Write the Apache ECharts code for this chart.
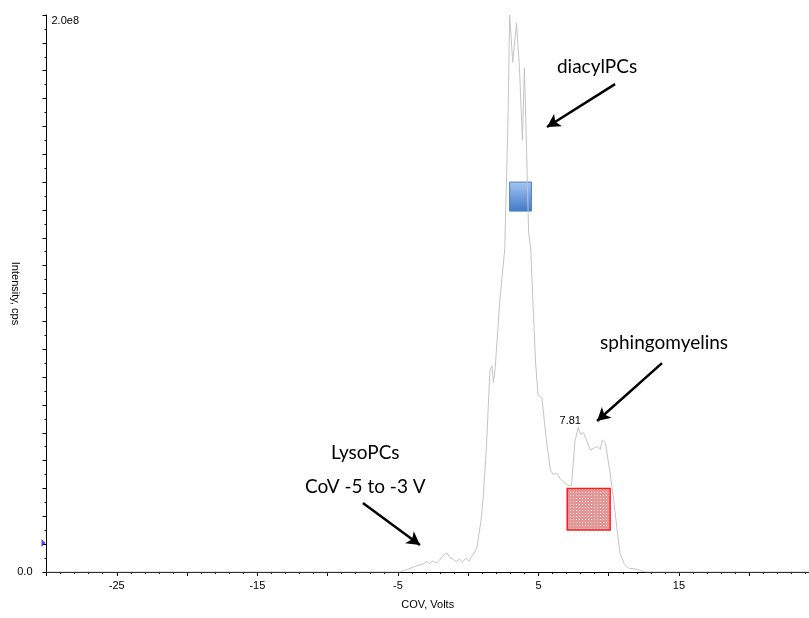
<!DOCTYPE html>
<html><head><meta charset="utf-8">
<script src="https://cdn.jsdelivr.net/npm/echarts@6/dist/echarts.min.js"></script>
<style>html,body{margin:0;padding:0;background:#fff}#c{width:809px;height:618px}</style>
</head><body><div id="c"></div>
<script>
// COV (Volts) and intensity (cps)
const covValues = [-30, -4.85, -4.4, -3.9, -3.5, -3.2, -2.95, -2.75, -2.5, -2.3, -2.05, -1.75, -1.5, -1.3, -1.1, -0.85, -0.6, -0.4, -0.15, 0.05, 0.3, 0.47, 0.63, 0.9, 1.06, 1.3, 1.55, 1.7, 1.8, 1.92, 2.26, 2.6, 2.75, 2.85, 2.95, 3.17, 3.44, 3.65, 3.86, 4.0, 4.15, 4.3, 4.45, 4.6, 4.8, 4.97, 5.25, 5.55, 5.85, 6.05, 6.3, 6.55, 6.8, 7.1, 7.35, 7.6, 7.83, 8.0, 8.2, 8.45, 8.7, 8.95, 9.2, 9.4, 9.55, 9.77, 10.1, 10.35, 10.6, 10.8, 11.1, 11.4, 12.0, 12.4, 12.6, 24.25];
const intensityValues = [0, 0, 8e5, 1.8e6, 2.5e6, 2.9e6, 3.8e6, 3.0e6, 4.0e6, 3.2e6, 4.2e6, 6.1e6, 6.8e6, 5.2e6, 4.6e6, 3.8e6, 4.6e6, 3.6e6, 5.0e6, 3.8e6, 6.0e6, 7.2e6, 9e6, 1.8e7, 2.6e7, 4.5e7, 7.25e7, 7.4e7, 6.8e7, 7.3e7, 9.8e7, 1.156e8, 1.45e8, 1.66e8, 2.0e8, 1.83e8, 1.97e8, 1.81e8, 1.55e8, 1.81e8, 1.53e8, 1.22e8, 1.16e8, 9.8e7, 7.5e7, 6.36e7, 6.25e7, 4.8e7, 3.66e7, 3.5e7, 3.55e7, 3.35e7, 3.23e7, 3.12e7, 3.1e7, 4.7e7, 5.2e7, 4.95e7, 5.0e7, 4.7e7, 4.38e7, 4.45e7, 4.5e7, 4.4e7, 4.74e7, 4.63e7, 3.55e7, 2.6e7, 1.5e7, 6.8e6, 3e6, 1.4e6, 1e6, 3e5, 0, 0];
const xTickLabels = [-25, -15, -5, 5, 15];
const peakLabel = {cov: 7.83, intensity: 5.2e7, text: '7.81'};
const thresholdMarker = [-30, 1.04e7];
const diacylBox = [[2.95, 1.296e8], [4.5, 1.4e8]];
const sphingoBox = [[7.05, 1.51e7], [10.1, 3.0e7]];
const arrows = [
  [[10.45, 1.752e8], [5.61, 1.598e8]],
  [[13.79, 7.5e7], [9.17, 5.42e7]],
  [[-7.49, 2.48e7], [-3.43, 9.7e6]]
];
const notes = [
  {text: 'diacylPCs', at: [9.17, 1.813e8]},
  {text: 'sphingomyelins', at: [13.94, 8.22e7]},
  {text: 'LysoPCs\nCoV -5 to -3 V', at: [-7.32, 3.66e7]}
];

const traceData = covValues.map((x, i) => [x, intensityValues[i]]);

const pc = document.createElement('canvas');
pc.width = 3; pc.height = 3;
const pctx = pc.getContext('2d');
pctx.fillStyle = '#e29696'; pctx.fillRect(0, 0, 3, 3);
pctx.fillStyle = '#f6e4e4'; pctx.fillRect(0, 0, 1, 1);

const axisFont = {fontFamily: 'Liberation Sans, Arial, sans-serif', fontSize: 11, color: '#000'};
const noteFont = 'Lato, "Open Sans", sans-serif';

const chart = echarts.init(document.getElementById('c'), null, {renderer: 'canvas'});
chart.setOption({
  animation: false,
  backgroundColor: '#fff',
  grid: {left: 46.5, right: 0, top: 15, bottom: 46, containLabel: false, outerBoundsMode: 'none'},
  xAxis: {
    type: 'value', min: -30, max: 24.25, interval: 5,
    name: 'COV, Volts', nameLocation: 'middle', nameGap: 27, nameMoveOverlap: false,
    nameTextStyle: axisFont,
    axisLine: {onZero: false, lineStyle: {color: '#000', width: 1}},
    axisTick: {length: 4, lineStyle: {color: '#000'}},
    minorTick: {show: true, splitNumber: 5, length: 2, lineStyle: {color: '#000'}},
    splitLine: {show: false},
    axisLabel: Object.assign({margin: 8, showMaxLabel: false,
      formatter: v => xTickLabels.includes(Math.round(v)) && Math.abs(v - Math.round(v)) < 1e-6 ? String(Math.round(v)) : ''}, axisFont)
  },
  yAxis: [{
    type: 'value', min: 0, max: 2e8, interval: 1e7, position: 'left',
    name: 'Intensity, cps', nameLocation: 'middle', nameGap: 26, nameRotate: -90, nameMoveOverlap: false,
    nameTextStyle: axisFont,
    axisLine: {show: true, onZero: false, lineStyle: {color: '#000', width: 1}},
    axisTick: {show: true, length: 4, lineStyle: {color: '#000'}},
    minorTick: {show: true, splitNumber: 2, length: 2, lineStyle: {color: '#000'}},
    splitLine: {show: false},
    axisLabel: Object.assign({margin: 14, formatter: v => v === 0 ? '0.0' : ''}, axisFont)
  }, {
    type: 'value', min: 0, max: 2e8, interval: 1e7, position: 'left', offset: 0,
    axisLine: {show: false, onZero: false}, axisTick: {show: false}, splitLine: {show: false},
    axisLabel: Object.assign({inside: true, margin: 5, verticalAlign: 'top', showMaxLabel: true,
      formatter: v => v === 2e8 ? '2.0e8' : ''}, axisFont)
  }],
  series: [{
    type: 'line', data: traceData, showSymbol: false, symbol: 'none',
    lineStyle: {color: '#c4c4c4', width: 1}, z: 2,
    markPoint: {
      symbol: 'circle', symbolSize: 0,
      label: {show: true, position: 'inside', offset: [-8, -6], formatter: peakLabel.text,
        fontFamily: 'Liberation Sans, Arial, sans-serif', fontSize: 11, color: '#000'},
      data: [{coord: [peakLabel.cov, peakLabel.intensity]}]
    }
  }, {
    type: 'line', data: [], z: 5,
    markArea: {
      silent: true,
      data: [
        [{coord: diacylBox[0], itemStyle: {color: {type: 'linear', x: 0, y: 0, x2: 0, y2: 1,
            colorStops: [{offset: 0, color: '#a6c6f2'}, {offset: 1, color: '#3f79c8'}]},
            borderColor: '#4a7ebb', borderWidth: 1, opacity: 1}},
         {coord: diacylBox[1]}],
        [{coord: sphingoBox[0], itemStyle: {color: {image: pc, repeat: 'repeat'},
            borderColor: '#ff1a1a', borderWidth: 1.5, opacity: 1}},
         {coord: sphingoBox[1]}]
      ]
    },
    markLine: {
      silent: true, symbol: ['none', 'arrow'], symbolSize: [11, 13],
      lineStyle: {color: '#000', width: 2.5, type: 'solid'},
      label: {show: false},
      data: arrows.map(a => [{coord: a[0]}, {coord: a[1]}])
    },
    markPoint: {
      symbol: 'circle', symbolSize: 0, silent: true,
      label: {show: true, position: 'inside', fontFamily: noteFont, fontSize: 19, color: '#000', lineHeight: 34},
      data: notes.map(n => ({coord: n.at, label: {formatter: n.text}}))
    }
  }, {
    type: 'scatter', data: [thresholdMarker], symbol: 'triangle', symbolSize: [8, 4],
    symbolRotate: -90, symbolOffset: [-3, 0], itemStyle: {color: '#1a1aff'}, clip: false, z: 6
  }]
});
</script></body></html>
